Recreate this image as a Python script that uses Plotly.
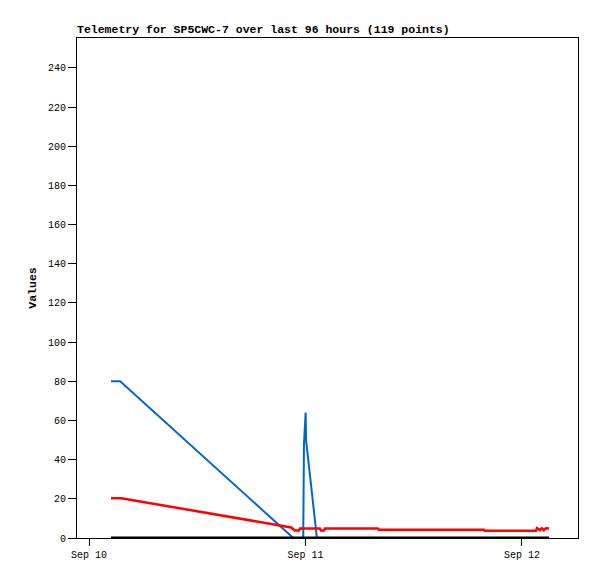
import plotly.graph_objects as go

# Series data
blue_times = ["2023-09-10 02:26", "2023-09-10 03:27", "2023-09-10 22:39", "2023-09-10 23:45",
              "2023-09-10 23:50", "2023-09-10 23:57", "2023-09-11 00:01", "2023-09-11 00:04",
              "2023-09-11 01:16", "2023-09-12 03:00"]
blue_values = [80, 80, 0, 0, 48, 64, 64, 50, 0, 0]

red_times = ["2023-09-10 02:26", "2023-09-10 03:35", "2023-09-10 22:25", "2023-09-10 22:50",
             "2023-09-10 23:17", "2023-09-10 23:23", "2023-09-11 01:36", "2023-09-11 01:43",
             "2023-09-11 02:03", "2023-09-11 02:10", "2023-09-11 08:02", "2023-09-11 08:09",
             "2023-09-11 19:47", "2023-09-11 19:54", "2023-09-12 01:33", "2023-09-12 01:40",
             "2023-09-12 02:00", "2023-09-12 02:13", "2023-09-12 02:26", "2023-09-12 02:40",
             "2023-09-12 03:00"]
red_values = [20.3, 20.3, 5.4, 3.8, 3.8, 4.8, 4.8, 3.8, 3.8, 4.8, 4.8, 4.2,
              4.2, 3.7, 3.7, 5.0, 4.0, 5.0, 4.0, 5.0, 4.8]

black_times = ["2023-09-10 02:26", "2023-09-12 03:00"]
black_values = [0, 0]

x_tick_vals = ["2023-09-10", "2023-09-11", "2023-09-12"]
x_tick_text = ["Sep 10", "Sep 11", "Sep 12"]
y_tick_vals = [0, 20, 40, 60, 80, 100, 120, 140, 160, 180, 200, 220, 240]

FONT = "Liberation Mono, DejaVu Sans Mono, monospace"
W, H = 597, 579
OFF = 8  # page body margin

fig = go.Figure()
fig.add_trace(go.Scatter(x=blue_times, y=blue_values, mode="lines",
                         line=dict(color="#0066cc", width=2), showlegend=False))
fig.add_trace(go.Scatter(x=red_times, y=red_values, mode="lines",
                         line=dict(color="#ff0000", width=2.5), showlegend=False))
fig.add_trace(go.Scatter(x=black_times, y=black_values, mode="lines",
                         line=dict(color="#000000", width=3), showlegend=False))

fig.update_layout(
    width=W, height=H,
    margin=dict(l=77 - OFF, r=W - 578 + OFF, t=38 - OFF, b=H - 538 + OFF),
    paper_bgcolor="white", plot_bgcolor="white",
    font=dict(family=FONT, size=10, color="black"),
    title=dict(text="<b>Telemetry for SP5CWC-7 over last 96 hours (119 points)</b>",
               x=(77 - OFF) / W, xanchor="left", y=1 - (29 - OFF) / H, yanchor="middle",
               font=dict(family=FONT, size=11.5, color="black")),
    xaxis=dict(range=["2023-09-09 22:40", "2023-09-12 06:13"],
               tickvals=x_tick_vals, ticktext=x_tick_text,
               showgrid=False, zeroline=False,
               showline=True, linecolor="black", linewidth=1, mirror=True,
               ticks="outside", ticklen=7, tickcolor="black"),
    yaxis=dict(range=[0, 255.3], tickvals=y_tick_vals,
               showgrid=False, zeroline=False,
               showline=True, linecolor="black", linewidth=1, mirror=True,
               ticks="outside", ticklen=8, tickcolor="black",
               title=dict(text="<b>Values</b>", standoff=8,
                          font=dict(family=FONT, size=11.5, color="black"))),
)

fig.write_html("out.html")
